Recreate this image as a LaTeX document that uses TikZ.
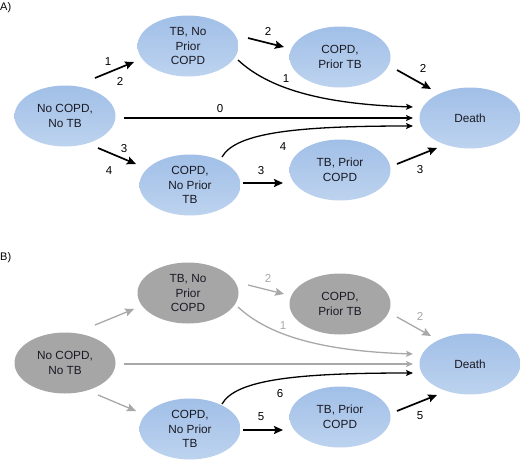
\documentclass[tikz,border=0pt]{standalone}
\usepackage{fontspec}
\setmainfont{Liberation Sans}
\usetikzlibrary{shapes.geometric,arrows.meta}
\definecolor{bluetop}{HTML}{A1BFE7}
\definecolor{bluebot}{HTML}{BDD3EF}
\definecolor{grayfill}{HTML}{A6A6A6}
\definecolor{grayline}{HTML}{A8A8A8}
\definecolor{txt}{HTML}{1A1A24}
\tikzset{
  state/.style={ellipse, minimum width=101pt, minimum height=61pt, inner sep=0pt,
    align=center, text=txt, font=\fontsize{11.8}{14.7}\selectfont},
  bluestate/.style={state, top color=bluetop, bottom color=bluebot},
  graystate/.style={state, fill=grayfill},
  shortarr/.style={line width=1.7pt, -{Stealth[length=9pt,width=8pt,inset=1.5pt]}},
  longarr/.style={line width=1.3pt, -{Stealth[length=7pt,width=6pt,inset=1.5pt]}},
  lbl/.style={font=\fontsize{11.5}{13}\selectfont, inner sep=0pt},
  graylbl/.style={lbl, text=grayline},
  gry/.style={draw=grayline, color=grayline},
  panel/.style={font=\fontsize{11}{13}\selectfont, anchor=west, inner sep=0pt}
}
\begin{document}
\begin{tikzpicture}[x=1pt,y=-1pt]
\useasboundingbox (0,0) rectangle (520,461);
% ===== Panel A =====
\node[panel] (pA) at (0,8) {A)};
\node[bluestate] (tbA) at (188,46) {TB, No\\Prior\\COPD};
\node[bluestate] (ncA) at (65,116) {No COPD,\\No TB};
\node[bluestate] (copdA) at (190,185) {COPD,\\No Prior\\TB};
\node[bluestate] (cptA) at (340,57) {COPD,\\Prior TB};
\node[bluestate] (deathA) at (470,118) {Death};
\node[bluestate] (tpcA) at (340,170) {TB, Prior\\COPD};

\coordinate (a1s) at (95,78);   \coordinate (a1e) at (134,62);
\coordinate (a2s) at (98,148);  \coordinate (a2e) at (136,164);
\coordinate (a3s) at (248,38);  \coordinate (a3e) at (284,47);
\coordinate (a4s) at (243,183); \coordinate (a4e) at (283,183);
\coordinate (a5s) at (397,70);  \coordinate (a5e) at (431,89);
\coordinate (a6s) at (397,164); \coordinate (a6e) at (437,148);
\coordinate (c1s) at (238,60);  \coordinate (c1e) at (413,107);
\coordinate (c2s) at (124,118); \coordinate (c2e) at (413,118);
\coordinate (c3s) at (222,157); \coordinate (c3e) at (413,126);

\draw[shortarr] (a1s) -- (a1e);
\draw[shortarr] (a2s) -- (a2e);
\draw[shortarr] (a3s) -- (a3e);
\draw[shortarr] (a4s) -- (a4e);
\draw[shortarr] (a5s) -- (a5e);
\draw[shortarr] (a6s) -- (a6e);
\draw[longarr] (c1s) .. controls (268,88) and (320,104) .. (c1e);
\draw[longarr] (c2s) -- (c2e);
\draw[longarr] (c3s) .. controls (236,132) and (300,126) .. (c3e);

\node[lbl] (lA1) at (108,62) {1};
\node[lbl] (lA2) at (120,81) {2};
\node[lbl] (lA3) at (124,149) {3};
\node[lbl] (lA4) at (109,171) {4};
\node[lbl] (lA0) at (220,109) {0};
\node[lbl] (lA5) at (268,31) {2};
\node[lbl] (lA6) at (286,79) {1};
\node[lbl] (lA7) at (283,147) {4};
\node[lbl] (lA8) at (261,171) {3};
\node[lbl] (lA9) at (423,68) {2};
\node[lbl] (lA10) at (420,170) {3};

% ===== Panel B =====
\node[panel] (pB) at (0,258) {B)};
\node[graystate] (tbB) at (188,293) {TB, No\\Prior\\COPD};
\node[graystate] (ncB) at (65,363) {No COPD,\\No TB};
\node[bluestate] (copdB) at (190,429) {COPD,\\No Prior\\TB};
\node[graystate] (cptB) at (340,304) {COPD,\\Prior TB};
\node[bluestate] (deathB) at (470,364) {Death};
\node[bluestate] (tpcB) at (340,417) {TB, Prior\\COPD};

\coordinate (b1s) at (95,325);  \coordinate (b1e) at (134,309);
\coordinate (b2s) at (98,395);  \coordinate (b2e) at (136,411);
\coordinate (b3s) at (248,285); \coordinate (b3e) at (284,294);
\coordinate (b4s) at (243,430); \coordinate (b4e) at (283,430);
\coordinate (b5s) at (397,317); \coordinate (b5e) at (431,336);
\coordinate (b6s) at (397,411); \coordinate (b6e) at (437,395);
\coordinate (d1s) at (238,307); \coordinate (d1e) at (413,354);
\coordinate (d2s) at (124,364); \coordinate (d2e) at (413,364);
\coordinate (d3s) at (222,404); \coordinate (d3e) at (413,373);

\draw[shortarr, gry, line width=1.3pt] (b1s) -- (b1e);
\draw[shortarr, gry, line width=1.3pt] (b2s) -- (b2e);
\draw[shortarr, gry, line width=1.3pt] (b3s) -- (b3e);
\draw[shortarr] (b4s) -- (b4e);
\draw[shortarr, gry, line width=1.3pt] (b5s) -- (b5e);
\draw[shortarr] (b6s) -- (b6e);
\draw[longarr, gry] (d1s) .. controls (268,335) and (320,351) .. (d1e);
\draw[longarr, gry] (d2s) -- (d2e);
\draw[longarr] (d3s) .. controls (236,379) and (300,373) .. (d3e);

\node[graylbl] (lB5) at (268,278) {2};
\node[graylbl] (lB6) at (283,326) {1};
\node[lbl] (lB7) at (280,394) {6};
\node[lbl] (lB8) at (261,417) {5};
\node[graylbl] (lB9) at (420,316) {2};
\node[lbl] (lB10) at (420,416) {5};
\end{tikzpicture}
\end{document}
